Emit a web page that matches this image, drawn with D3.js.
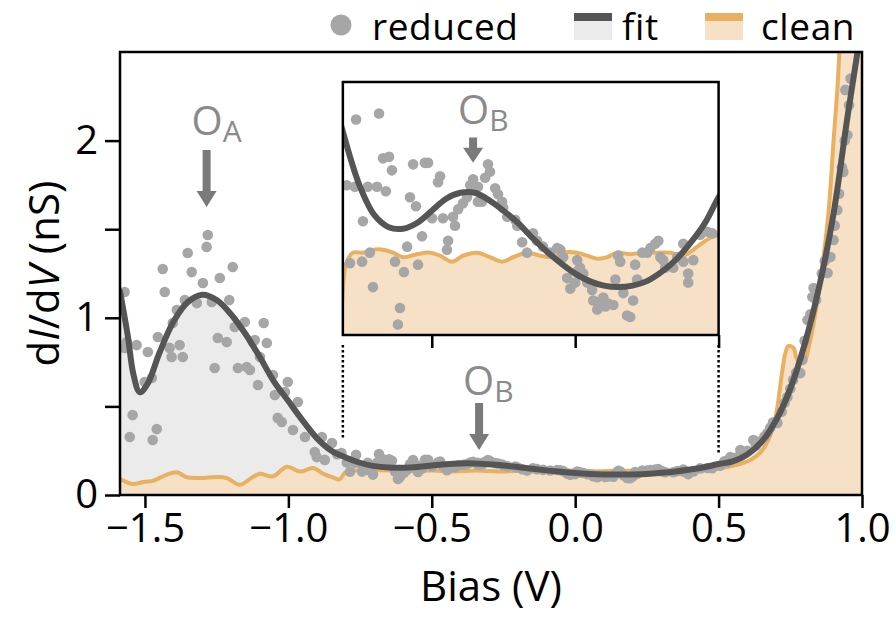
<!DOCTYPE html>
<html>
<head>
<meta charset="utf-8">
<script src="https://cdn.jsdelivr.net/npm/d3@7"></script>
<style>
  body { margin: 0; background: #fff; }
  text { font-family: "Open Sans", "Noto Sans", sans-serif; }
</style>
</head>
<body>
<svg id="chart" width="895" height="619"></svg>
<script>
// ---- measured differential conductance, [bias (V), dI/dV (nS)] ----
const reduced = [
  // strong-coupling side
  [-1.571,1.146],[-1.571,0.830],[-1.564,0.863],[-1.553,0.327],[-1.543,0.451],[-1.529,0.846],
  [-1.501,0.638],[-1.490,0.807],[-1.476,0.660],[-1.473,0.310],[-1.459,0.372],[-1.455,0.892],
  [-1.438,1.275],[-1.431,1.146],[-1.414,0.830],[-1.407,0.779],[-1.403,0.971],[-1.389,1.044],
  [-1.379,0.846],[-1.368,0.779],[-1.361,1.100],[-1.351,1.366],[-1.337,1.258],[-1.319,1.083],
  [-1.298,1.196],[-1.285,1.400],[-1.281,1.467],[-1.267,1.089],[-1.257,0.717],[-1.246,0.886],
  [-1.239,1.225],[-1.215,0.863],[-1.206,1.100],[-1.194,1.287],[-1.187,0.948],[-1.176,0.717],
  [-1.152,0.976],[-1.145,0.722],[-1.134,0.705],[-1.124,0.863],[-1.117,0.875],[-1.106,0.621],
  [-1.099,0.779],[-1.086,0.971],[-1.075,0.858],[-1.054,0.677],[-1.047,0.564],[-1.037,0.435],
  [-1.023,0.412],[-1.012,0.581],[-1.002,0.638],[-0.984,0.367],[-0.967,0.525],[-0.942,0.327],
  [-0.908,0.243],[-0.901,0.214],[-0.883,0.327],[-0.873,0.198],[-0.848,0.293],[-0.830,0.230],
  [-0.815,0.237],
  // gap region
  [-0.796,0.183],[-0.785,0.131],[-0.768,0.182],[-0.764,0.227],[-0.743,0.132],[-0.740,0.159],
  [-0.723,0.182],[-0.716,0.138],[-0.705,0.115],[-0.691,0.182],[-0.684,0.231],[-0.670,0.201],
  [-0.660,0.179],[-0.649,0.202],[-0.639,0.193],[-0.628,0.132],[-0.618,0.090],[-0.611,0.101],
  [-0.597,0.125],[-0.586,0.142],[-0.576,0.175],[-0.565,0.197],[-0.555,0.169],[-0.548,0.130],
  [-0.534,0.149],[-0.524,0.198],[-0.513,0.198],[-0.499,0.161],[-0.478,0.185],[-0.471,0.189],
  [-0.461,0.161],[-0.447,0.140],[-0.443,0.146],[-0.426,0.162],[-0.419,0.156],[-0.408,0.167],
  [-0.391,0.171],[-0.377,0.175],[-0.366,0.183],[-0.356,0.187],[-0.339,0.182],[-0.339,0.172],
  [-0.325,0.172],[-0.314,0.188],[-0.304,0.197],[-0.297,0.192],[-0.279,0.181],[-0.269,0.177],
  [-0.255,0.172],[-0.251,0.168],[-0.237,0.162],[-0.209,0.160],[-0.202,0.156],[-0.185,0.145],
  [-0.168,0.138],[-0.147,0.151],[-0.133,0.146],[-0.112,0.142],[-0.087,0.138],[-0.063,0.141],
  [-0.052,0.140],[-0.042,0.135],[-0.028,0.121],[-0.017,0.114],[0.000,0.118],[0.007,0.133],
  [0.010,0.126],[0.017,0.128],[0.028,0.124],[0.042,0.118],[0.059,0.113],[0.063,0.106],
  [0.077,0.100],[0.080,0.105],[0.098,0.108],[0.105,0.102],[0.115,0.104],[0.133,0.103],
  [0.140,0.120],[0.150,0.136],[0.157,0.132],[0.168,0.111],[0.181,0.096],[0.192,0.095],
  [0.202,0.106],[0.209,0.130],[0.216,0.120],[0.234,0.138],[0.251,0.138],[0.262,0.141],
  [0.279,0.144],[0.290,0.146],[0.297,0.135],[0.307,0.133],[0.314,0.128],[0.342,0.128],
  [0.356,0.135],[0.377,0.132],[0.377,0.144],[0.394,0.124],[0.394,0.118],[0.412,0.133],
  [0.436,0.150],[0.461,0.152],[0.478,0.151],
  // onset of the conduction band
  [0.505,0.165],[0.520,0.190],[0.530,0.185],[0.541,0.214],[0.560,0.210],[0.576,0.254],
  [0.580,0.225],[0.590,0.240],[0.600,0.250],[0.621,0.310],[0.630,0.280],[0.640,0.300],
  [0.660,0.330],[0.670,0.350],[0.680,0.380],[0.690,0.410],[0.705,0.406],[0.720,0.470],
  [0.730,0.520],[0.740,0.553],[0.750,0.600],[0.760,0.650],[0.770,0.690],[0.785,0.688],
  [0.792,0.762],[0.800,0.870],[0.810,0.988],[0.820,1.020],[0.827,1.117],[0.831,1.168],
  [0.840,1.100],[0.860,1.250],[0.870,1.320],[0.880,1.253],[0.890,1.343],[0.901,1.439],
  [0.905,1.520],[0.914,1.608],[0.920,1.700],[0.930,1.850],[0.935,1.823],[0.940,2.000],
  [0.949,2.032],[0.955,2.200],[0.960,2.350],[0.942,2.286]
];

// ---- model fit ----
const fitV = [-1.587,-1.56,-1.54,-1.518,-1.49,-1.45,-1.40,-1.35,-1.30,-1.25,-1.20,-1.15,-1.10,
  -1.05,-1.00,-0.95,-0.90,-0.85,-0.80,-0.75,-0.70,-0.65,-0.60,-0.55,-0.50,-0.45,-0.40,-0.35,
  -0.30,-0.25,-0.20,-0.15,-0.10,-0.05,0.00,0.05,0.10,0.15,0.20,0.25,0.30,0.35,0.40,0.45,0.50,
  0.55,0.60,0.65,0.70,0.75,0.80,0.85,0.90,0.95,1.00];
const fitG = [1.15,0.90,0.68,0.58,0.63,0.80,0.98,1.09,1.13,1.10,1.02,0.91,0.78,
  0.64,0.53,0.42,0.32,0.25,0.212,0.182,0.163,0.155,0.154,0.158,0.166,0.174,0.178,0.178,
  0.173,0.166,0.158,0.148,0.139,0.131,0.124,0.119,0.116,0.115,0.116,0.119,0.125,0.133,0.144,0.157,0.175,
  0.19,0.228,0.30,0.42,0.60,0.85,1.17,1.58,2.14,2.66];

// ---- cleaned spectrum ----
const cleanV = [-1.587,-1.56,-1.543,-1.50,-1.473,-1.424,-1.389,-1.354,-1.309,-1.250,-1.215,-1.169,
  -1.124,-1.099,-1.054,-1.005,-0.960,-0.914,-0.876,-0.845,-0.822,-0.800,-0.775,-0.740,-0.705,-0.670,
  -0.635,-0.600,-0.552,-0.506,-0.471,-0.429,-0.391,-0.342,-0.297,-0.255,-0.216,-0.168,-0.122,
  -0.077,-0.042,0.007,0.042,0.077,0.112,0.147,0.192,0.237,0.286,0.332,0.377,0.426,0.471,0.500,
  0.550,0.611,0.653,0.690,0.705,0.722,0.733,0.743,0.761,0.775,0.796,0.820,0.855,0.883,0.901,
  0.914,0.921,0.940,1.000];
const cleanG = [0.090,0.070,0.062,0.075,0.080,0.115,0.128,0.100,0.096,0.102,0.096,0.058,
  0.102,0.120,0.105,0.160,0.132,0.152,0.118,0.100,0.088,0.130,0.138,0.138,0.140,0.140,
  0.138,0.135,0.137,0.138,0.136,0.132,0.136,0.138,0.135,0.132,0.135,0.138,0.136,
  0.135,0.138,0.138,0.136,0.134,0.135,0.138,0.137,0.138,0.138,0.138,0.136,0.142,0.148,0.150,
  0.165,0.198,0.254,0.380,0.497,0.700,0.801,0.841,0.830,0.762,0.751,0.875,1.213,1.591,2.003,
  2.286,2.494,3.00,4.00];

const xTicks = [-1.5, -1.0, -0.5, 0.0, 0.5, 1.0];
const xTickLabels = ["\u22121.5", "\u22121.0", "\u22120.5", "0.0", "0.5", "1.0"];
const yTicks = [0, 0.5, 1, 1.5, 2];
const yTickLabels = ["0", "", "1", "", "2"];
const insetTicks = [-0.5, 0.0, 0.5];

const fitData = fitV.map((v, i) => [v, fitG[i]]);
const cleanData = cleanV.map((v, i) => [v, cleanG[i]]);

const C = {
  dot: "#a6a6a6", fit: "#555555", fitFill: "#ebebeb",
  clean: "#e8b060", cleanFill: "#f6e1c6", note: "#8a8a8a", arrow: "#7a7a7a"
};

const svg = d3.select("#chart");
const x = d3.scaleLinear().domain([-1.587, 1.0]).range([120, 862]);
const y = d3.scaleLinear().domain([0, 2.5]).range([495, 52]);
const xi = d3.scaleLinear().domain([-0.81, 0.5]).range([x(-0.81), x(0.5)]);
const yi = d3.scaleLinear().domain([0.083, 0.252]).range([335, 82]);

const defs = svg.append("defs");
defs.append("clipPath").attr("id", "clipMain").append("rect")
  .attr("x", x.range()[0]).attr("y", y.range()[1])
  .attr("width", x.range()[1] - x.range()[0]).attr("height", y.range()[0] - y.range()[1]);
defs.append("clipPath").attr("id", "clipInset").append("rect")
  .attr("x", xi.range()[0]).attr("y", yi.range()[1])
  .attr("width", xi.range()[1] - xi.range()[0]).attr("height", yi.range()[0] - yi.range()[1]);

const curve = d3.curveCatmullRom.alpha(0.5);

function drawPanel(g, sx, sy, withFitFill) {
  const [y0] = sy.range();
  if (withFitFill) {
    g.append("path").datum(fitData)
      .attr("d", d3.area().curve(curve).x(d => sx(d[0])).y0(y0).y1(d => sy(d[1])))
      .attr("fill", C.fitFill);
  }
  g.append("path").datum(cleanData)
    .attr("d", d3.area().curve(curve).x(d => sx(d[0])).y0(y0).y1(d => sy(d[1])))
    .attr("fill", C.cleanFill);
  g.append("path").datum(cleanData)
    .attr("d", d3.line().curve(curve).x(d => sx(d[0])).y(d => sy(d[1])))
    .attr("fill", "none").attr("stroke", C.clean).attr("stroke-width", 4)
    .attr("stroke-linejoin", "round");
  const [dx0, dx1] = sx.domain();
  g.append("g").selectAll("circle")
    .data(reduced.filter(d => d[0] >= dx0 && d[0] <= dx1))
    .join("circle")
    .attr("cx", d => sx(d[0])).attr("cy", d => sy(d[1])).attr("r", 5.3)
    .attr("fill", C.dot);
  g.append("path").datum(fitData)
    .attr("d", d3.line().curve(curve).x(d => sx(d[0])).y(d => sy(d[1])))
    .attr("fill", "none").attr("stroke", C.fit).attr("stroke-width", 6)
    .attr("stroke-linejoin", "round").attr("stroke-linecap", "round");
}

// arrow pointing down with its tip at (px, tipY)
function arrow(g, px, topY, tipY, shaftW, headW, headH) {
  const p = d3.path();
  p.moveTo(px - shaftW / 2, topY);
  p.lineTo(px + shaftW / 2, topY);
  p.lineTo(px + shaftW / 2, tipY - headH);
  p.lineTo(px + headW / 2, tipY - headH);
  p.lineTo(px, tipY);
  p.lineTo(px - headW / 2, tipY - headH);
  p.lineTo(px - shaftW / 2, tipY - headH);
  p.closePath();
  g.append("path").attr("d", p.toString()).attr("fill", C.arrow);
}

function label(g, px, py, main, sub) {
  const t = g.append("text").attr("x", px).attr("y", py).attr("fill", C.note)
    .attr("font-size", 40);
  t.append("tspan").text(main);
  t.append("tspan").attr("font-size", 30).attr("dy", 7).text(sub);
}

// ---- main panel ----
const main = svg.append("g").attr("clip-path", "url(#clipMain)");
drawPanel(main, x, y, true);

// O_A peak marker
arrow(svg, x(-1.285), y(1.947), y(1.625), 8, 20, 16);
label(svg, x(-1.285) - 15, y(2.03), "O", "A");

// O_B marker on the main panel
arrow(svg, x(-0.335), y(0.519), y(0.254), 8, 20, 16);
label(svg, x(-0.335) - 16, y(0.565), "O", "B");

// dotted guides from the inset down to the data
[[-0.81, 0.31], [0.5, 0.235]].forEach(([v, g0]) => {
  svg.append("line")
    .attr("x1", x(v)).attr("x2", x(v)).attr("y1", yi.range()[0] + 10).attr("y2", y(g0))
    .attr("stroke", "#000").attr("stroke-width", 2.5).attr("stroke-dasharray", "2.5,2.5");
});

// main frame
svg.append("rect")
  .attr("x", x.range()[0]).attr("y", y.range()[1])
  .attr("width", x.range()[1] - x.range()[0]).attr("height", y.range()[0] - y.range()[1])
  .attr("fill", "none").attr("stroke", "#000").attr("stroke-width", 2.5);

// axes
const xAxis = svg.append("g").attr("transform", `translate(0,${y.range()[0]})`)
  .call(d3.axisBottom(x).tickValues(xTicks).tickSize(13).tickPadding(6)
    .tickFormat((d, i) => xTickLabels[i]));
const yAxis = svg.append("g").attr("transform", `translate(${x.range()[0]},0)`)
  .call(d3.axisLeft(y).tickValues(yTicks).tickSize(15).tickPadding(7)
    .tickFormat((d, i) => yTickLabels[i]));
[xAxis, yAxis].forEach(a => {
  a.select(".domain").remove();
  a.selectAll(".tick line").attr("stroke", "#000").attr("stroke-width", 2.5);
  a.selectAll(".tick text").attr("fill", "#000").attr("font-size", 40)
    .attr("font-family", '"Open Sans", "Noto Sans", sans-serif');
});

svg.append("text").attr("x", (x.range()[0] + x.range()[1]) / 2).attr("y", 601)
  .attr("text-anchor", "middle").attr("font-size", 42).attr("fill", "#000").text("Bias (V)");

const yl = svg.append("text")
  .attr("transform", `translate(59,${(y.range()[0] + y.range()[1]) / 2}) rotate(-90)`)
  .attr("text-anchor", "middle").attr("font-size", 42).attr("fill", "#000");
yl.append("tspan").text("d");
yl.append("tspan").attr("font-style", "italic").text("I");
yl.append("tspan").text("/d");
yl.append("tspan").attr("font-style", "italic").text("V");
yl.append("tspan").text(" (nS)");

// ---- inset: zoom on the gap region ----
svg.append("rect")
  .attr("x", xi.range()[0]).attr("y", yi.range()[1])
  .attr("width", xi.range()[1] - xi.range()[0]).attr("height", yi.range()[0] - yi.range()[1])
  .attr("fill", "#fff");
const inset = svg.append("g").attr("clip-path", "url(#clipInset)");
drawPanel(inset, xi, yi, false);
arrow(svg, xi(-0.356), yi(0.215), yi(0.198), 8, 20, 15);
label(svg, xi(-0.356) - 15, yi(0.224), "O", "B");
svg.append("rect")
  .attr("x", xi.range()[0]).attr("y", yi.range()[1])
  .attr("width", xi.range()[1] - xi.range()[0]).attr("height", yi.range()[0] - yi.range()[1])
  .attr("fill", "none").attr("stroke", "#000").attr("stroke-width", 2.5);
const insetAxis = svg.append("g").attr("transform", `translate(0,${yi.range()[0]})`)
  .call(d3.axisBottom(xi).tickValues(insetTicks).tickSize(13).tickFormat(""));
insetAxis.select(".domain").remove();
insetAxis.selectAll(".tick line").attr("stroke", "#000").attr("stroke-width", 2.5);

// ---- legend ----
const leg = svg.append("g");
leg.append("circle").attr("cx", 341).attr("cy", 25).attr("r", 10.5).attr("fill", C.dot);
leg.append("text").attr("x", 372).attr("y", 40).attr("font-size", 37)
  .attr("letter-spacing", 0.6).attr("fill", "#000").text("reduced");
[[574, 622, C.fit, C.fitFill, "fit"], [705, 761, C.clean, C.cleanFill, "clean"]].forEach(([lx, tx, c1, c2, t]) => {
  leg.append("rect").attr("x", lx).attr("y", 21).attr("width", 38).attr("height", 19).attr("fill", c2);
  leg.append("rect").attr("x", lx).attr("y", 13).attr("width", 38).attr("height", 8).attr("fill", c1);
  leg.append("text").attr("x", tx).attr("y", 40).attr("font-size", 37)
    .attr("letter-spacing", 0.6).attr("fill", "#000").text(t);
});
</script>
</body>
</html>
